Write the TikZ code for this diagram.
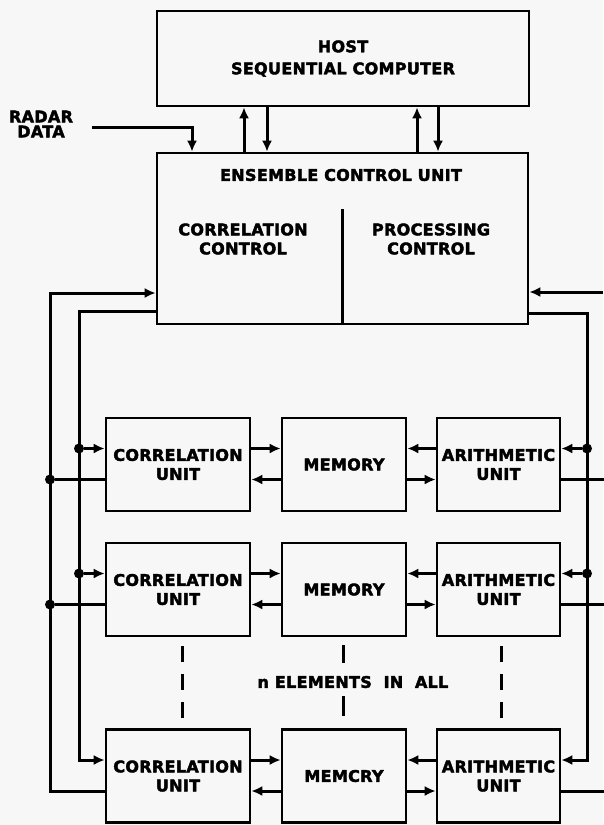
\documentclass[tikz,border=0pt]{standalone}
\usepackage{fontspec}
\setmainfont{DejaVu Sans}[LetterSpace=2, BoldFeatures={FakeBold=2.5}]
\usetikzlibrary{arrows.meta, positioning, calc}
\newcommand{\blk}{\fontsize{16}{19}\selectfont\bfseries}
\tikzset{
  unit/.style={draw, line width=2.6pt, inner sep=0pt, minimum height=93pt,
               align=center, font=\blk},
  lbl/.style={inner sep=0pt, align=center, font=\blk},
  flow/.style={-{Latex[length=11pt,width=10pt]}, line width=3pt},
  wire/.style={line width=3pt},
  dot/.style={circle, fill, inner sep=0pt, minimum size=10pt},
  etc/.style={line width=3pt, dash pattern=on 16pt off 12pt}
}

\begin{document}
\begin{tikzpicture}[x=1pt, y=-1pt]
  \fill[black!3] (0,0) rectangle (603,825);
  \useasboundingbox (0,0) rectangle (603,825);
  % host and ensemble control unit
  \node[unit, minimum width=372pt, minimum height=95pt] (host) at (343,58.5)
    {HOST\\[3pt]SEQUENTIAL COMPUTER};
  \node[unit, minimum width=371pt, minimum height=171pt] (ecu) at (342.5,238.5) {};
  \node[lbl] (ecut) at (341,175) {ENSEMBLE CONTROL UNIT};
  \node[lbl] (cc) at (243,239) {CORRELATION\\CONTROL};
  \node[lbl] (pc) at (431,239) {PROCESSING\\CONTROL};
  \draw[line width=2.6pt] (ecu.south) -- ++(0,-116);
  \foreach \xx in {244,417}
    \draw[flow] (\xx,0 |- ecu.north) -- (\xx,0 |- host.south);
  \foreach \xx in {267,438}
    \draw[flow] (\xx,0 |- host.south) -- (\xx,0 |- ecu.north);
  % radar input
  \node[lbl] (radar) at (41,124) {RADAR\\[-4pt]DATA};
  \coordinate (rin) at (92,127);
  \draw[flow] (rin) -| (192,0 |- ecu.north);
  % elements
  \foreach \i/\yc/\mtxt in {1/464.5/MEMORY, 2/589.5/MEMORY, 3/776/MEMCRY}{
    \node[unit, minimum width=144pt] (cu\i) at (178,\yc) {CORRELATION\\UNIT};
    \node[unit, minimum width=124pt] (mem\i) at (344,\yc) {\mtxt};
    \node[unit, minimum width=123pt] (au\i) at (498.5,\yc) {ARITHMETIC\\UNIT};
    \draw[flow] ([yshift=16pt]cu\i.east) -- ([yshift=16pt]mem\i.west);
    \draw[flow] ([yshift=-15pt]mem\i.west) -- ([yshift=-15pt]cu\i.east);
    \draw[flow] ([yshift=16pt]au\i.west) -- ([yshift=16pt]mem\i.east);
    \draw[flow] ([yshift=-15pt]mem\i.east) -- ([yshift=-15pt]au\i.west);
    \draw[wire] ([yshift=-15pt]au\i.east) -- ++(50,0);
  }
  \foreach \i/\yc in {1/464.5, 2/589.5}{
    \node[dot] (jin\i) at (79,{\yc-16}) {};
    \draw[flow] (jin\i) -- ([yshift=16pt]cu\i.west);
    \node[dot] (jout\i) at (50,{\yc+15}) {};
    \draw[wire] (jout\i) -- ([yshift=-15pt]cu\i.west);
    \node[dot] (jar\i) at (587,{\yc-16}) {};
    \draw[flow] (jar\i) -- ([yshift=16pt]au\i.east);
  }
  % buses
  \draw[flow] (ecu.west |- 0,311) -| (79,760) -- ([yshift=16pt]cu3.west);
  \draw[flow] ([yshift=-15pt]cu3.west) -| (50,293) -- (ecu.west |- 0,293);
  \draw[flow] (ecu.east |- 0,313) -| (587,760) -- ([yshift=16pt]au3.east);
  \coordinate (retin) at (603,292);
  \draw[flow] (retin) -- (ecu.east |- retin);
  % n elements
  \node[lbl] (nel) at (353,682) {n ELEMENTS\ \ IN\ \ ALL};
  \draw[etc] (182,646) -- (182,718);
  \draw[etc] (501,646) -- (501,718);
  \draw[wire] (343,645) -- (343,663);
  \draw[wire] (343,696) -- (343,716);
\end{tikzpicture}
\end{document}
